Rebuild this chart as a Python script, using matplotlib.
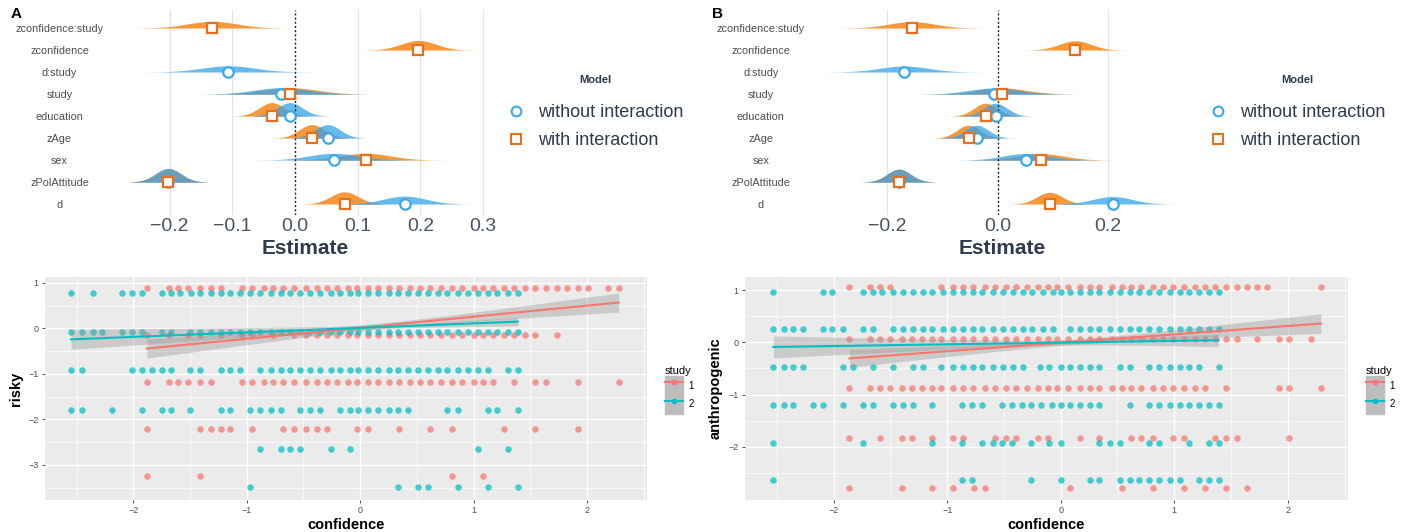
import numpy as np
import matplotlib
matplotlib.use('Agg')
import matplotlib.pyplot as plt
from matplotlib.lines import Line2D
from matplotlib.patches import Patch

plt.rcParams['font.family'] = ['Liberation Sans', 'DejaVu Sans']

W, H = 1407, 532

# ---------------- top panels: posterior estimates ----------------
terms = ['zconfidence:study', 'zconfidence', 'd:study', 'study', 'education',
         'zAge', 'sex', 'zPolAttitude', 'd']
nan = np.nan

# panel A (risky)
a_wo_est = [nan, nan, -0.106, -0.022, -0.008, 0.052, 0.062, -0.202, 0.175]
a_wo_sd = [nan, nan, 0.043, 0.042, 0.020, 0.020, 0.040, 0.020, 0.034]
a_w_est = [-0.132, 0.197, nan, -0.008, -0.037, 0.027, 0.113, -0.202, 0.079]
a_w_sd = [0.040, 0.028, nan, 0.042, 0.020, 0.020, 0.040, 0.020, 0.022]
a_ticks = [-0.2, -0.1, 0.0, 0.1, 0.2, 0.3]

# panel B (anthropogenic)
b_wo_est = [nan, nan, -0.170, -0.007, -0.004, -0.038, 0.051, -0.179, 0.208]
b_wo_sd = [nan, nan, 0.045, 0.044, 0.021, 0.021, 0.041, 0.021, 0.036]
b_w_est = [-0.156, 0.140, nan, 0.007, -0.022, -0.053, 0.078, -0.179, 0.094]
b_w_sd = [0.042, 0.029, nan, 0.044, 0.021, 0.021, 0.042, 0.021, 0.023]
b_ticks = [-0.2, 0.0, 0.2]

# ---------------- bottom panels: raw data ----------------
# panel A: risky vs confidence, rows = (y level, x values)
risky_s1 = {
    0.89: [-1.88, -1.69, -1.61, -1.52, -1.41, -1.32, -1.23, -1.04, -0.95, -0.85, -0.77, -0.68,
           -0.58, -0.48, -0.38, -0.29, -0.20, -0.11, -0.03, 0.07, 0.16, 0.25, 0.34, 0.44, 0.53,
           0.62, 0.71, 0.81, 0.90, 1.00, 1.08, 1.17, 1.27, 1.36, 1.45, 1.54, 1.64, 1.74, 1.82,
           1.92, 2.01, 2.19, 2.28],
    -0.14: [-1.88, -1.69, -1.52, -1.41, -1.23, -1.04, -0.95, -0.77, -0.58, -0.48, -0.38, -0.29,
            -0.20, -0.11, -0.03, 0.07, 0.16, 0.25, 0.34, 0.44, 0.53, 0.62, 0.71, 0.81, 0.90,
            1.00, 1.08, 1.17, 1.27, 1.36, 1.45, 1.54, 1.74],
    -1.18: [-1.88, -1.69, -1.61, -1.52, -1.41, -1.32, -1.04, -0.95, -0.85, -0.77, -0.68, -0.58,
            -0.48, -0.38, -0.29, -0.20, -0.11, -0.03, 0.07, 0.16, 0.25, 0.34, 0.44, 0.53, 0.62,
            0.71, 0.81, 0.90, 1.00, 1.08, 1.17, 1.36, 1.54, 1.64, 1.92, 2.28],
    -2.20: [-1.88, -1.41, -1.32, -1.23, -1.15, -0.95, -0.68, -0.58, -0.48, -0.38, -0.29, -0.03,
            0.07, 0.34, 0.62, 0.81, 1.27, 1.54, 1.92],
    -3.24: [-1.88, -1.41, 0.81, 1.08],
}
risky_s2 = {
    0.78: [-2.55, -2.36, -2.10, -2.01, -1.92, -1.75, -1.67, -1.59, -1.49, -1.41, -1.32, -1.23,
           -1.15, -1.06, -0.97, -0.88, -0.79, -0.70, -0.62, -0.53, -0.44, -0.35, -0.26, -0.18,
           -0.09, -0.02, 0.07, 0.16, 0.25, 0.33, 0.42, 0.51, 0.60, 0.69, 0.77, 0.86, 0.95, 1.04,
           1.13, 1.21, 1.30, 1.39],
    -0.07: [-2.55, -2.45, -2.36, -2.28, -2.10, -2.01, -1.92, -1.75, -1.67, -1.50, -1.41, -1.32,
            -1.23, -1.15, -1.06, -0.97, -0.88, -0.79, -0.70, -0.62, -0.53, -0.44, -0.35, -0.26,
            -0.18, -0.09, -0.02, 0.07, 0.16, 0.25, 0.33, 0.42, 0.51, 0.60, 0.69, 0.77, 0.86,
            0.95, 1.04, 1.13, 1.21, 1.30, 1.39],
    -0.92: [-2.55, -2.45, -2.01, -1.92, -1.84, -1.75, -1.67, -1.50, -1.41, -1.23, -1.15, -1.06,
            -0.88, -0.79, -0.70, -0.62, -0.53, -0.44, -0.35, -0.26, -0.18, -0.09, -0.02, 0.07,
            0.16, 0.25, 0.33, 0.42, 0.51, 0.60, 0.69, 0.77, 0.86, 0.95, 1.04, 1.13, 1.30, 1.39],
    -1.79: [-2.55, -2.45, -2.19, -1.92, -1.75, -1.67, -1.50, -1.23, -1.15, -0.97, -0.88, -0.79,
            -0.70, -0.53, -0.44, -0.35, -0.18, -0.09, -0.02, 0.07, 0.16, 0.25, 0.33, 0.42, 0.77,
            0.86, 1.13, 1.21, 1.39],
    -2.65: [-0.88, -0.70, -0.62, -0.53, -0.26, -0.09, 1.04, 1.30],
    -3.49: [-0.97, 0.33, 0.51, 0.60, 0.86, 1.13, 1.39],
}
# panel B: anthropogenic vs confidence
anthro_s1 = {
    1.05: [-1.86, -1.68, -1.59, -1.50, -1.05, -0.95, -0.86, -0.77, -0.67, -0.58, -0.48, -0.39,
           -0.30, -0.20, -0.11, -0.03, 0.06, 0.17, 0.26, 0.34, 0.45, 0.54, 0.62, 0.71, 0.81,
           0.90, 0.99, 1.09, 1.18, 1.27, 1.36, 1.46, 1.55, 1.64, 1.73, 1.82, 2.29],
    0.07: [-1.86, -1.68, -1.59, -1.50, -1.40, -1.31, -1.22, -1.13, -1.05, -0.95, -0.86, -0.77,
           -0.67, -0.58, -0.48, -0.39, -0.30, -0.20, -0.11, -0.03, 0.06, 0.17, 0.26, 0.34, 0.45,
           0.54, 0.62, 0.71, 0.81, 0.90, 0.99, 1.09, 1.18, 1.27, 1.36, 1.46, 1.55, 1.73, 1.92,
           2.01, 2.20],
    -0.88: [-1.86, -1.68, -1.59, -1.50, -1.40, -1.31, -1.22, -1.13, -1.05, -0.95, -0.86, -0.77,
            -0.67, -0.58, -0.48, -0.39, -0.30, -0.20, -0.11, -0.03, 0.06, 0.17, 0.26, 0.34, 0.45,
            0.54, 0.62, 0.71, 0.81, 0.90, 0.99, 1.09, 1.18, 1.27, 1.46, 1.92, 2.01, 2.29],
    -1.84: [-1.86, -1.59, -1.40, -1.31, -1.13, -0.95, -0.86, -0.58, -0.48, -0.39, -0.20, -0.11,
            0.17, 0.34, 0.62, 0.71, 0.81, 0.99, 1.09, 1.36, 1.46, 1.55, 2.01],
    -2.79: [-1.86, -1.40, -1.13, -0.95, -0.76, -0.67, 0.08, 0.54, 0.81, 1.09, 1.27, 1.46, 1.64],
}
anthro_s2 = {
    0.96: [-2.53, -2.09, -2.01, -1.74, -1.65, -1.57, -1.48, -1.39, -1.30, -1.21, -1.13, -1.04,
           -0.95, -0.86, -0.77, -0.69, -0.60, -0.51, -0.42, -0.33, -0.25, -0.16, -0.07, 0.00,
           0.08, 0.17, 0.26, 0.34, 0.43, 0.52, 0.61, 0.69, 0.78, 0.87, 0.96, 1.05, 1.13, 1.22,
           1.31, 1.39],
    0.25: [-2.53, -2.44, -2.36, -2.27, -2.09, -2.01, -1.92, -1.74, -1.65, -1.48, -1.39, -1.30,
           -1.21, -1.13, -1.04, -0.95, -0.86, -0.77, -0.69, -0.60, -0.51, -0.42, -0.33, -0.25,
           -0.16, -0.07, 0.08, 0.17, 0.26, 0.34, 0.43, 0.52, 0.61, 0.69, 0.78, 0.87, 0.96, 1.05,
           1.13, 1.22, 1.31, 1.39],
    -0.48: [-2.53, -2.44, -2.36, -2.27, -1.92, -1.83, -1.65, -1.48, -1.30, -1.21, -1.05, -0.95,
            -0.86, -0.77, -0.69, -0.60, -0.51, -0.42, -0.33, -0.18, -0.10, 0.00, 0.08, 0.17,
            0.26, 0.34, 0.52, 0.61, 0.78, 0.87, 0.96, 1.05, 1.13, 1.22, 1.39],
    -1.20: [-2.53, -2.44, -2.36, -2.18, -2.09, -1.92, -1.74, -1.65, -1.48, -1.39, -1.30, -1.13,
            -0.87, -0.78, -0.69, -0.52, -0.43, -0.34, -0.26, -0.17, -0.08, 0.00, 0.08, 0.17,
            0.26, 0.34, 0.61, 0.78, 0.87, 0.96, 1.05, 1.13, 1.22, 1.31, 1.39],
    -1.92: [-2.53, -1.74, -1.13, -0.87, -0.69, -0.60, -0.52, -0.43, -0.26, -0.10, 0.00, 0.34,
            0.43, 0.52, 0.78, 0.87, 1.13, 1.31, 1.39],
    -2.64: [-2.53, -0.87, -0.78, -0.26, 0.00, 0.26, 0.34, 0.52, 0.61, 0.69, 0.78, 0.87, 0.96,
            1.05, 1.22, 1.31, 1.39],
}

# lm fits per study: x range, intercept, slope, se at centre, centre, se slope
risky_fit = {1: ([-1.88, 2.28], 0.015, 0.243, 0.06, 0.2, 0.097),
             2: ([-2.55, 1.39], 0.012, 0.099, 0.04, 0.3, 0.076)}
anthro_fit = {1: ([-1.86, 2.29], -0.010, 0.161, 0.05, 0.1, 0.083),
              2: ([-2.53, 1.39], -0.006, 0.033, 0.05, 0.0, 0.081)}

C_WO = '#66BBEE'
C_W = '#F7993B'
C_BOTH = '#6A9DBA'
E_WO = '#3DA8E6'
E_W = '#E8701C'
C_S1 = '#F8766D'
C_S2 = '#00BFC4'
TXT = '#2E3A4E'


def px_rect(l, t, r, b):
    return [l / W, 1 - b / H, (r - l) / W, (b - t) / H]


fig = plt.figure(figsize=(W / 100, H / 100), dpi=100)


def estimate_panel(rect, xlim, ticks, wo_est, wo_sd, w_est, w_sd, label_pad):
    ax = fig.add_axes(rect)
    xs = np.linspace(xlim[0], xlim[1], 1200)
    k = 0.0122
    for i in range(len(terms)):
        dens = []
        for est, sd, col in [(w_est[i], w_sd[i], C_W), (wo_est[i], wo_sd[i], C_WO)]:
            if np.isnan(est):
                dens.append(None)
                continue
            h = k / sd * np.exp(-0.5 * ((xs - est) / sd) ** 2)
            m = np.abs(xs - est) < 3.2 * sd
            ax.fill_between(xs, i, i - h, where=m, color=col, lw=0, zorder=2)
            dens.append(np.where(m, h, 0))
        if dens[0] is not None and dens[1] is not None:
            both = np.minimum(dens[0], dens[1])
            ax.fill_between(xs, i, i - both, where=both > 0, color=C_BOTH, lw=0, zorder=3)
        if not np.isnan(wo_est[i]):
            ax.plot(wo_est[i], i, 'o', ms=7.5, mfc='white', mec=E_WO, mew=1.6, zorder=6)
        if not np.isnan(w_est[i]):
            ax.plot(w_est[i], i, 's', ms=6.5, mfc='white', mec=E_W, mew=1.6, zorder=7)
    for t in ticks:
        if t != 0:
            ax.axvline(t, color='#E3E3E3', lw=0.9, zorder=0)
    ax.axvline(0, color='#222222', lw=1.0, ls=(0, (1.5, 1.5)), zorder=5)
    ax.set_xlim(xlim)
    ax.set_ylim(8.5, -0.82)
    ax.set_xticks(ticks, [f'{t:.1f}'.replace('-', '\u2212') for t in ticks])
    ax.set_yticks(range(len(terms)), terms)
    ax.tick_params(axis='x', length=0, labelsize=14, labelcolor='#4A5366', pad=2)
    ax.tick_params(axis='y', length=0, labelsize=7.8, labelcolor='#4D4D4D', pad=label_pad)
    for lab in ax.get_yticklabels():
        lab.set_horizontalalignment('center')
    for s in ax.spines.values():
        s.set_visible(False)
    ax.set_xlabel('Estimate', fontsize=15, fontweight='bold', color=TXT, labelpad=3)
    return ax


ax_a = estimate_panel(px_rect(115, 10, 495, 215), (-0.287, 0.319), a_ticks,
                      a_wo_est, a_wo_sd, a_w_est, a_w_sd, 40)
ax_b = estimate_panel(px_rect(815, 10, 1190, 215), (-0.331, 0.348), b_ticks,
                      b_wo_est, b_wo_sd, b_w_est, b_w_sd, 39)

model_handles = [Line2D([], [], ls='', marker='o', ms=7, mfc='white', mec=E_WO, mew=1.5),
                 Line2D([], [], ls='', marker='s', ms=6.5, mfc='white', mec=E_W, mew=1.5)]
for x0 in (507, 1209):
    leg = fig.legend(model_handles, ['without interaction', 'with interaction'],
                     loc='upper left', bbox_to_anchor=(x0 / W, 1 - 75 / H), frameon=False,
                     fontsize=13, title='Model', handlelength=1.0, handletextpad=0.7,
                     labelspacing=0.6, borderpad=0, borderaxespad=0)
    leg.get_title().set_fontsize(8)
    leg.get_title().set_fontweight('bold')
    leg.get_title().set_color(TXT)
    for t in leg.get_texts():
        t.set_color(TXT)
    leg._legend_box.sep = 14

fig.text(11 / W, 1 - 14 / H, 'A', fontsize=11, fontweight='bold', va='center')
fig.text(712 / W, 1 - 14 / H, 'B', fontsize=11, fontweight='bold', va='center')


def data_panel(rect, s1, s2, fit, ylim, yticks, yminor, ylabel):
    ax = fig.add_axes(rect)
    ax.set_facecolor('#EBEBEB')
    for yv, xv in s1.items():
        ax.scatter(xv, np.full(len(xv), yv), s=22, color=C_S1, alpha=0.72, lw=0, zorder=3)
    for yv, xv in s2.items():
        ax.scatter(xv, np.full(len(xv), yv), s=22, color=C_S2, alpha=0.72, lw=0, zorder=3)
    for st, col in [(1, C_S1), (2, C_S2)]:
        (x0, x1), b0, b1, se0, xc, se1 = fit[st]
        xx = np.linspace(x0, x1, 100)
        yy = b0 + b1 * xx
        se = np.sqrt(se0 ** 2 + (se1 * (xx - xc)) ** 2)
        ax.fill_between(xx, yy - se, yy + se, color='#999999', alpha=0.4, lw=0, zorder=4)
        ax.plot(xx, yy, color=col, lw=1.5, zorder=5)
    ax.set_xlim(-2.78, 2.53)
    ax.set_ylim(ylim)
    ax.set_xticks([-2, -1, 0, 1, 2])
    ax.set_xticks([-2.5, -1.5, -0.5, 0.5, 1.5, 2.5], minor=True)
    ax.set_yticks(yticks)
    ax.set_yticks(yminor, minor=True)
    ax.grid(which='major', color='white', lw=1.0)
    ax.grid(which='minor', color='white', lw=0.5)
    ax.set_axisbelow(True)
    ax.tick_params(which='major', length=2.5, width=0.6, color='#333333',
                   labelsize=6.5, labelcolor='#4D4D4D', pad=2)
    ax.tick_params(which='minor', length=0)
    for s in ax.spines.values():
        s.set_visible(False)
    ax.set_xlabel('confidence', fontsize=10.5, fontweight='bold', labelpad=2)
    ax.set_ylabel(ylabel, fontsize=10.5, fontweight='bold', labelpad=4)
    handles = [(Patch(color='#BDBDBD'), Line2D([], [], color=C_S1, lw=1.5, marker='o', ms=3)),
               (Patch(color='#BDBDBD'), Line2D([], [], color=C_S2, lw=1.5, marker='o', ms=3))]
    leg = ax.legend(handles, ['1', '2'], title='study', loc='upper left',
                    bbox_to_anchor=(1.03, 0.6), frameon=False, fontsize=7,
                    handlelength=1.8, handleheight=2.6, handletextpad=0.6,
                    labelspacing=0.0, borderpad=0, borderaxespad=0)
    leg.get_title().set_fontsize(8)
    leg._legend_box.align = 'left'
    return ax


data_panel(px_rect(45, 277, 647, 500), risky_s1, risky_s2, risky_fit, (-3.77, 1.13),
           [1, 0, -1, -2, -3], [0.5, -0.5, -1.5, -2.5, -3.5], 'risky')
data_panel(px_rect(745, 277, 1348, 500), anthro_s1, anthro_s2, anthro_fit, (-3.02, 1.25),
           [1, 0, -1, -2], [0.5, -0.5, -1.5, -2.5], 'anthropogenic')

fig.savefig('out.png', dpi=100)
